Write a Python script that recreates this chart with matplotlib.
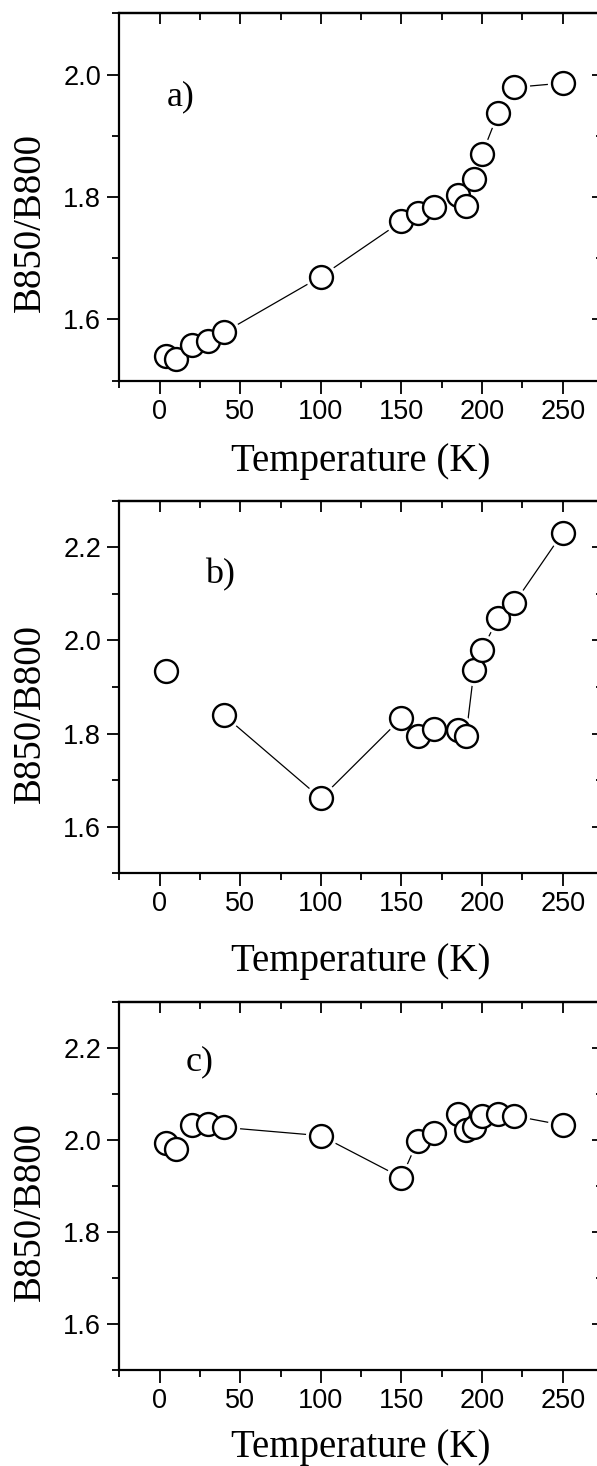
import matplotlib
matplotlib.use("Agg")
import matplotlib.pyplot as plt
from matplotlib.ticker import MultipleLocator, FormatStrFormatter

# ---------------- data ----------------
temp_a = [4, 10, 20, 30, 40, 100, 150, 160, 170, 185, 190, 195, 200, 210, 220, 250]
ratio_a = [1.540, 1.535, 1.558, 1.565, 1.579, 1.670, 1.760, 1.774, 1.783, 1.804,
           1.785, 1.829, 1.870, 1.937, 1.979, 1.986]

temp_b = [4, 40, 100, 150, 160, 170, 185, 190, 195, 200, 210, 220, 250]
ratio_b = [1.935, 1.839, 1.661, 1.833, 1.794, 1.810, 1.807, 1.794, 1.936, 1.980,
           2.048, 2.080, 2.231]
line_start_b = 1  # the 4 K point is not joined to the line

temp_c = [4, 10, 20, 30, 40, 100, 150, 160, 170, 185, 190, 195, 200, 210, 220, 250]
ratio_c = [1.994, 1.979, 2.032, 2.035, 2.027, 2.009, 1.918, 1.997, 2.015, 2.055,
           2.022, 2.027, 2.052, 2.055, 2.052, 2.032]

panel_labels = ["a)", "b)", "c)"]
ylims = [(1.5, 2.1), (1.5, 2.3), (1.5, 2.3)]
xlim = (-25, 275)
x_label = "Temperature (K)"
y_label = "B850/B800"

# ---------------- layout ----------------
W, H = 597, 1466
fig = plt.figure(figsize=(W / 100, H / 100), dpi=100)

sans = ["Liberation Sans", "DejaVu Sans"]
serif = ["Liberation Serif", "DejaVu Serif"]

left_px, right_px = 119.3, 603.0
panels_px = [(13.3, 380.7), (500.7, 873.3), (1001.7, 1370.0)]
label_pos = [(0.098, 0.750), (0.178, 0.779), (0.137, 0.815)]
xlabel_off_px = [90.0, 97.4, 87.5]

datasets = [
    (temp_a, ratio_a, 0),
    (temp_b, ratio_b, line_start_b),
    (temp_c, ratio_c, 0),
]

ms = 16.5
for i, ((top, bot), (tx, ty), (xs, ys, ls)) in enumerate(zip(panels_px, label_pos, datasets)):
    ax = fig.add_axes([left_px / W, 1 - bot / H, (right_px - left_px) / W, (bot - top) / H])
    ax.set_xlim(*xlim)
    ax.set_ylim(*ylims[i])
    for s in ax.spines.values():
        s.set_linewidth(1.6)

    # connecting line, with small gaps around markers (white halo)
    ax.plot(xs[ls:], ys[ls:], color="black", lw=0.9, zorder=1)
    ax.plot(xs, ys, linestyle="none", marker="o", ms=ms + 6, mfc="white",
            mec="white", mew=0, zorder=2)
    ax.plot(xs, ys, linestyle="none", marker="o", ms=ms, mfc="white",
            mec="black", mew=1.7, zorder=3)

    ax.xaxis.set_major_locator(MultipleLocator(50))
    ax.xaxis.set_minor_locator(MultipleLocator(25))
    ax.yaxis.set_major_locator(MultipleLocator(0.2))
    ax.yaxis.set_minor_locator(MultipleLocator(0.1))
    ax.yaxis.set_major_formatter(FormatStrFormatter("%.1f"))
    ax.tick_params(which="both", direction="out", top=False, right=False, width=1.3)
    ax.tick_params(which="major", length=9, labelsize=19.5, pad=4)
    ax.tick_params(which="minor", length=5)
    for lab in ax.get_xticklabels() + ax.get_yticklabels():
        lab.set_family(sans)

    # top / right ticks pointing inward, no labels
    secx = ax.secondary_xaxis("top")
    secx.xaxis.set_major_locator(MultipleLocator(50))
    secx.xaxis.set_minor_locator(MultipleLocator(25))
    secx.tick_params(which="both", direction="in", labeltop=False, width=1.3)
    secx.tick_params(which="major", length=8)
    secx.tick_params(which="minor", length=5)
    secx.spines["top"].set_linewidth(1.6)
    secy = ax.secondary_yaxis("right")
    secy.yaxis.set_major_locator(MultipleLocator(0.2))
    secy.yaxis.set_minor_locator(MultipleLocator(0.1))
    secy.tick_params(which="both", direction="in", labelright=False, width=1.3)
    secy.tick_params(which="major", length=8)
    secy.tick_params(which="minor", length=5)

    # labels
    ax.text(tx, ty, panel_labels[i], transform=ax.transAxes, family=serif,
            fontsize=26, ha="left", va="baseline")
    ax.text(-0.1846, 0.43, y_label, transform=ax.transAxes, family=serif,
            fontsize=28, rotation=90, ha="center", va="center")
    ax.text(0.5, -xlabel_off_px[i] / (bot - top),
            x_label, transform=ax.transAxes, family=serif, fontsize=28,
            ha="center", va="baseline")

fig.savefig("out.png", dpi=100)
